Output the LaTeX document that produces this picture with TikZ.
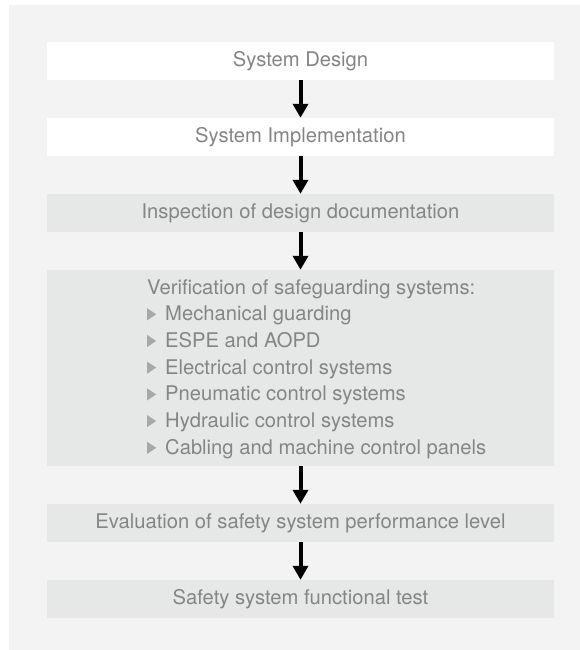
\documentclass[tikz,border=0pt]{standalone}
\usepackage{fontspec}
\setmainfont{TeX Gyre Heros}
\usetikzlibrary{arrows.meta}
\definecolor{panelgray}{HTML}{F3F3F3}
\definecolor{boxgray}{HTML}{E6E7E7}
\definecolor{txtgray}{HTML}{858585}
\definecolor{bulgray}{HTML}{A8A8A8}
\newcommand{\bulletmark}{\raisebox{0.5pt}{\tikz\fill[bulgray] (0pt,0pt) -- (0pt,12pt) -- (9pt,6pt) -- cycle;}\hspace{9pt}}
\tikzset{
  stage/.style={rectangle, minimum width=507pt, minimum height=38pt, inner sep=0pt,
    text=txtgray, font=\fontsize{20.2}{24}\selectfont},
  whitestage/.style={stage, fill=white},
  graystage/.style={stage, fill=boxgray},
  flowarrow/.style={line width=4pt, -{Triangle[width=15pt,length=14pt]}, black}
}
\begin{document}
\begin{tikzpicture}[x=1pt,y=-1pt]
\useasboundingbox (0,0) rectangle (580,650);
\fill[panelgray] (9,5) rectangle (580,650);
\node[whitestage] (design) at (300.5,61) {System Design};
\node[whitestage] (impl) at (300.5,137) {System Implementation};
\node[graystage] (insp) at (300.5,213) {Inspection of design documentation};
\node[graystage, minimum height=196pt] (verif) at (300.5,368) {};
\node[anchor=west, text=txtgray, align=left, inner sep=0pt, font=\fontsize{20.2}{26.7}\selectfont] (veriftext) at (147,369) {%
Verification of safeguarding systems:\\
\bulletmark Mechanical guarding\\
\bulletmark ESPE and AOPD\\
\bulletmark Electrical control systems\\
\bulletmark Pneumatic control systems\\
\bulletmark Hydraulic control systems\\
\bulletmark Cabling and machine control panels};
\node[graystage] (eval) at (300.5,523) {Evaluation of safety system performance level};
\node[graystage] (test) at (300.5,599) {Safety system functional test};
\draw[flowarrow] (design.south) -- (impl.north);
\draw[flowarrow] (impl.south) -- (insp.north);
\draw[flowarrow] (insp.south) -- (verif.north);
\draw[flowarrow] (verif.south) -- (eval.north);
\draw[flowarrow] (eval.south) -- (test.north);
\end{tikzpicture}
\end{document}
